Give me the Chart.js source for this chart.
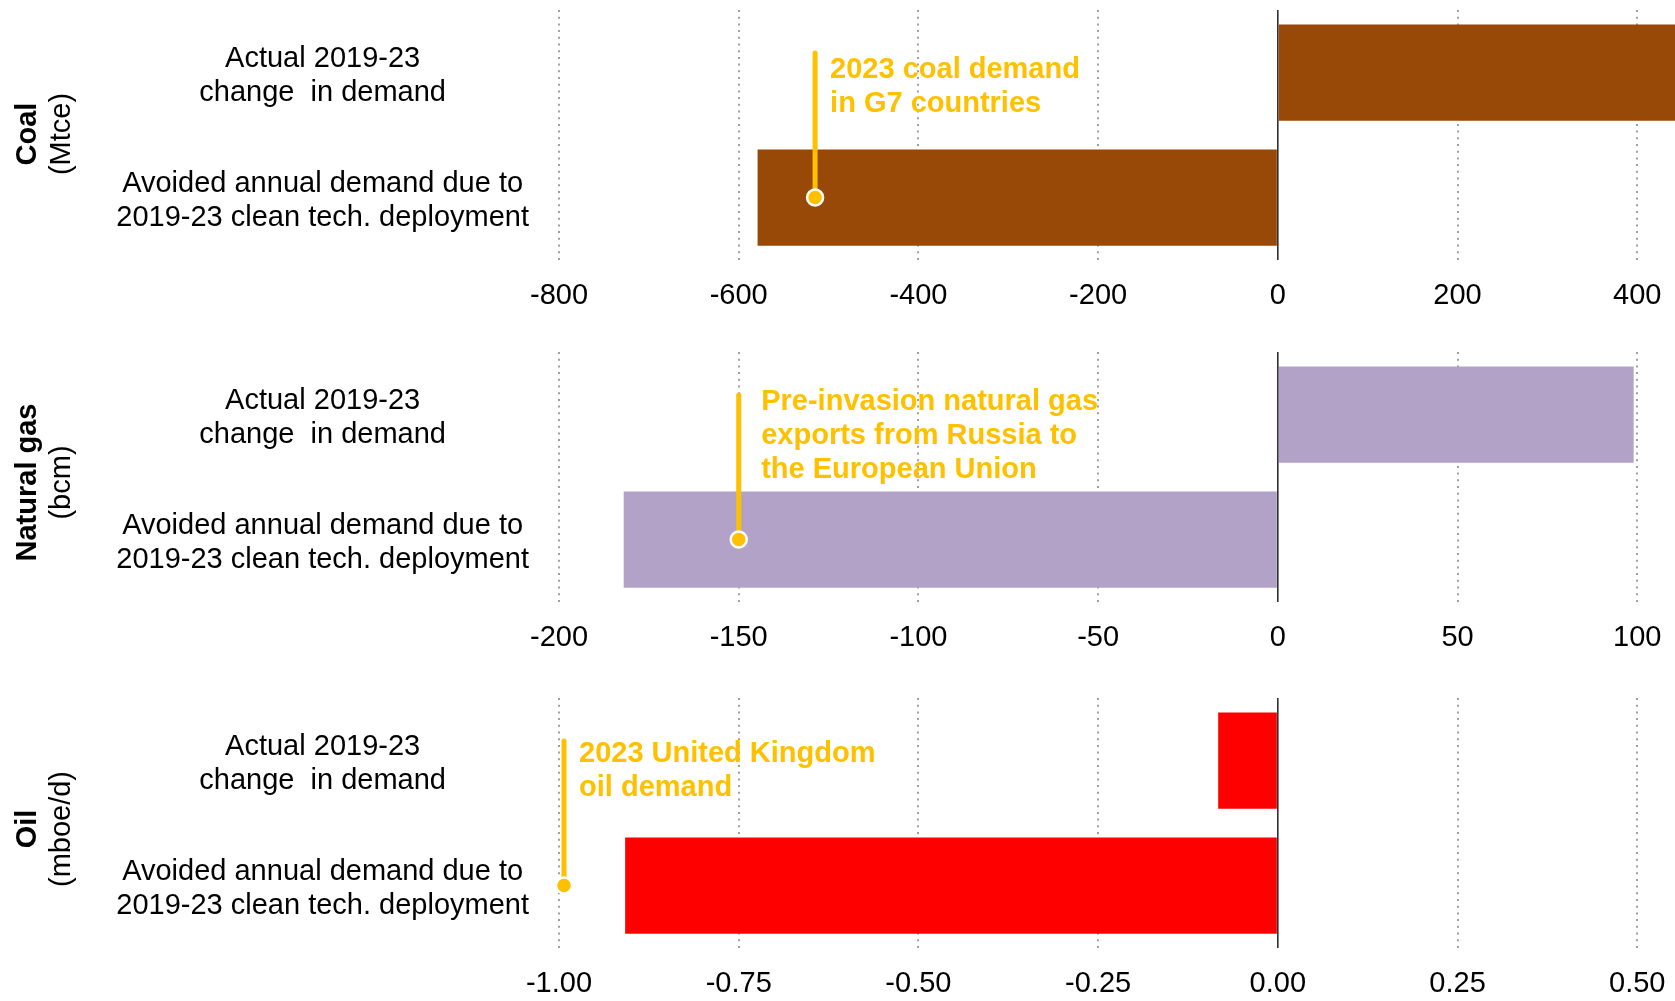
<!DOCTYPE html>
<html><head><meta charset="utf-8">
<script src="https://cdn.jsdelivr.net/npm/chart.js@4.4.1/dist/chart.umd.min.js"></script>
<style>
html,body{margin:0;padding:0;background:#fff;overflow:hidden;}
#wrap{position:relative;width:1675px;height:1001px;background:#fff;}
.panel{position:absolute;left:0;width:1675px;height:313px;}
</style></head><body>
<div id="wrap">
<div class="panel" style="top:0px"><canvas id="c0"></canvas></div>
<div class="panel" style="top:342px"><canvas id="c1"></canvas></div>
<div class="panel" style="top:688px"><canvas id="c2"></canvas></div>
</div>
<script>
// ---------- data ----------
const categories = [
  ['Actual 2019-23', 'change  in demand'],
  ['Avoided annual demand due to', '2019-23 clean tech. deployment']
];
const fuelNames = ['Coal', 'Natural gas', 'Oil'];
const fuelUnits = ['(Mtce)', '(bcm)', '(mboe/d)'];

const coalValues = [445, -579];
const gasValues = [99, -182];
const oilValues = [-0.083, -0.908];

const coalTicks = [-800, -600, -400, -200, 0, 200, 400];
const gasTicks = [-200, -150, -100, -50, 0, 50, 100];
const oilTicks = [-1, -0.75, -0.5, -0.25, 0, 0.25, 0.5];
const coalTickLabels = ['-800', '-600', '-400', '-200', '0', '200', '400'];
const gasTickLabels = ['-200', '-150', '-100', '-50', '0', '50', '100'];
const oilTickLabels = ['-1.00', '-0.75', '-0.50', '-0.25', '0.00', '0.25', '0.50'];

const coalReference = -515;   // 2023 coal demand in G7 countries
const gasReference = -150;    // pre-invasion Russian gas exports to EU
const oilReference = -0.993;  // 2023 UK oil demand
const coalNote = ['2023 coal demand', 'in G7 countries'];
const gasNote = ['Pre-invasion natural gas', 'exports from Russia to', 'the European Union'];
const oilNote = ['2023 United Kingdom', 'oil demand'];

// ---------- styling / layout ----------
const FONT = '"Liberation Sans", Arial, sans-serif';
const GOLD = '#FFC000';
const panels = [
  {id: 'c0', values: coalValues, ticks: coalTicks, tickLabels: coalTickLabels, min: -800, max: 442,
   color: '#984807', ref: coalReference, note: coalNote, noteDx: 15, noteDy: 16.7, titleY: 134},
  {id: 'c1', values: gasValues, ticks: gasTicks, tickLabels: gasTickLabels, min: -200, max: 110.5,
   color: '#B3A2C7', ref: gasReference, note: gasNote, noteDx: 22.5, noteDy: 7.3, titleY: 140.5},
  {id: 'c2', values: oilValues, ticks: oilTicks, tickLabels: oilTickLabels, min: -1, max: 0.5525,
   color: '#FF0000', ref: oilReference, note: oilNote, noteDx: 15, noteDy: 12.9, titleY: 141}
];

panels.forEach((p, i) => {
  const deco = {
    id: 'deco' + i,
    afterDatasetsDraw(chart) {
      const ctx = chart.ctx;
      const xs = chart.scales.x, ys = chart.scales.y;
      const area = chart.chartArea;
      // zero line
      const x0 = xs.getPixelForValue(0);
      ctx.save();
      ctx.strokeStyle = '#000';
      ctx.lineWidth = 1.3;
      ctx.beginPath();
      ctx.moveTo(x0, area.top);
      ctx.lineTo(x0, area.bottom);
      ctx.stroke();
      // reference annotation
      const xr = xs.getPixelForValue(p.ref);
      const ym = ys.getPixelForValue(1);
      const yt = ym - 144.5;
      ctx.strokeStyle = GOLD;
      ctx.lineWidth = 5;
      ctx.lineCap = 'round';
      ctx.beginPath();
      ctx.moveTo(xr, yt);
      ctx.lineTo(xr, ym);
      ctx.stroke();
      ctx.beginPath();
      ctx.arc(xr, ym, 8, 0, Math.PI * 2);
      ctx.fillStyle = GOLD;
      ctx.fill();
      ctx.lineWidth = 2.5;
      ctx.strokeStyle = '#fff';
      ctx.stroke();
      ctx.fillStyle = GOLD;
      ctx.font = 'bold 29px ' + FONT;
      ctx.textAlign = 'left';
      ctx.textBaseline = 'middle';
      p.note.forEach((t, k) => ctx.fillText(t, xr + p.noteDx, yt + p.noteDy + k * 33.8));
      // panel title (rotated)
      ctx.fillStyle = '#000';
      ctx.textAlign = 'center';
      ctx.save();
      ctx.translate(28, p.titleY);
      ctx.rotate(-Math.PI / 2);
      ctx.font = 'bold 29px ' + FONT;
      ctx.fillText(fuelNames[i], 0, 0);
      ctx.restore();
      ctx.save();
      ctx.translate(62, p.titleY);
      ctx.rotate(-Math.PI / 2);
      ctx.font = '29px ' + FONT;
      ctx.fillText(fuelUnits[i], 0, 0);
      ctx.restore();
      ctx.restore();
    }
  };

  new Chart(document.getElementById(p.id), {
    type: 'bar',
    data: {
      labels: categories,
      datasets: [{
        data: p.values,
        backgroundColor: p.color,
        borderWidth: 0,
        barPercentage: 0.77,
        categoryPercentage: 1.0
      }]
    },
    options: {
      indexAxis: 'y',
      responsive: true,
      maintainAspectRatio: false,
      animation: false,
      layout: {padding: {top: 10, left: 0, right: 0, bottom: 0}},
      plugins: {legend: {display: false}, tooltip: {enabled: false}},
      scales: {
        x: {
          type: 'linear',
          min: p.min,
          max: p.max,
          afterBuildTicks: (s) => { s.ticks = p.ticks.map(v => ({value: v})); },
          afterFit: (s) => { s.height = 53; s.paddingLeft = 0; s.paddingRight = 0; },
          ticks: {
            autoSkip: false,
            maxRotation: 0,
            padding: 3,
            color: '#000',
            font: {family: FONT, size: 29, lineHeight: 1.2},
            callback: (v, idx) => p.tickLabels[idx]
          },
          grid: {
            drawTicks: true,
            tickLength: 15.5,
            tickColor: 'rgba(0,0,0,0)',
            lineWidth: 2,
            color: (c) => (c.tick && c.tick.value === 0) ? 'rgba(0,0,0,0)' : '#A0A0A0'
          },
          border: {display: false, dash: [2, 4.7]}
        },
        y: {
          afterFit: (s) => { s.width = 559; s.paddingTop = 0; s.paddingBottom = 0; },
          ticks: {
            crossAlign: 'center',
            padding: 30,
            labelOffset: 3.5,
            color: '#000',
            font: {family: FONT, size: 29, lineHeight: 1.165}
          },
          grid: {display: false, drawTicks: false},
          border: {display: false}
        }
      }
    },
    plugins: [deco]
  });
});
</script>
</body></html>
